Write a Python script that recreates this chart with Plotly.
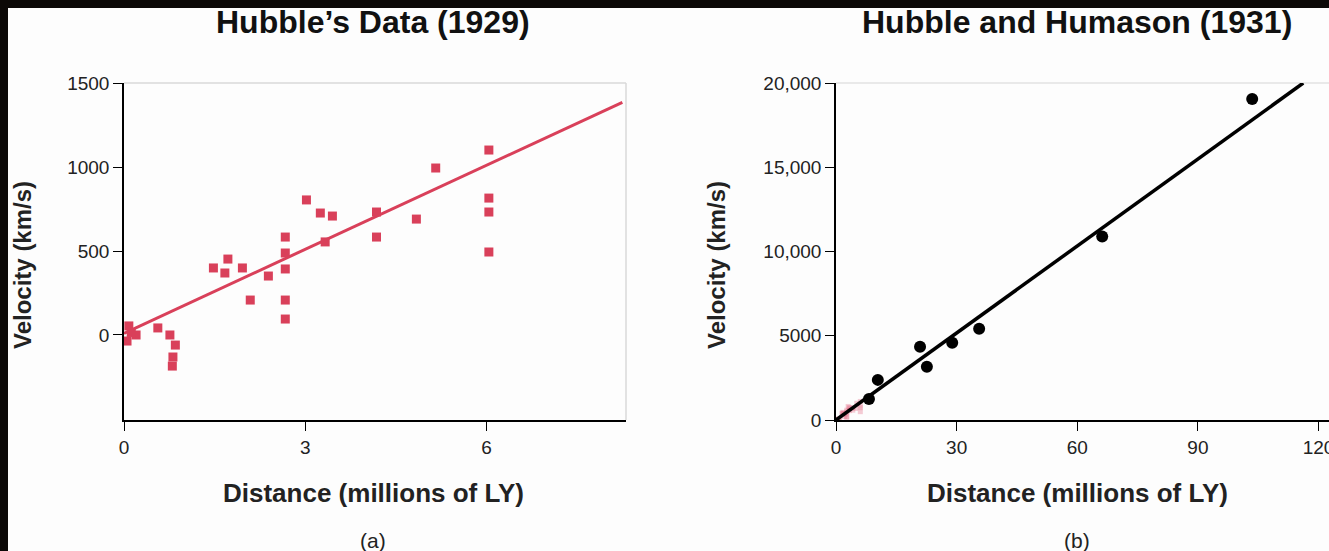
import plotly.graph_objects as go

# ---- Data: Hubble 1929 (distance in millions of LY, velocity km/s)
hubble_dist = [0.08, 0.05, 0.20, 0.12, 0.56, 0.76, 0.85, 0.81, 0.80,
               1.48, 1.72, 1.67, 1.96, 2.09, 2.39,
               2.67, 2.67, 2.67, 2.67, 2.67,
               3.02, 3.25, 3.45, 3.33, 4.18, 4.18, 4.84, 5.16,
               6.04, 6.04, 6.04, 6.04]
hubble_vel = [54, -36, 0, 15, 42, 0, -60, -131, -185,
              399, 452, 369, 399, 208, 351,
              583, 488, 393, 208, 95,
              804, 726, 708, 554, 732, 583, 690, 994,
              1101, 815, 732, 494]
fit_a_x = [0, 8.25]
fit_a_y = [10, 1385]

# ---- Data: Hubble and Humason 1931
hh_dist = [8.2, 10.4, 20.9, 22.6, 28.9, 35.6, 66.2, 103.5]
hh_vel = [1250, 2381, 4345, 3155, 4583, 5417, 10893, 19048]
fit_b_x = [0, 116.2]
fit_b_y = [0, 20000]

xa_ticks = [0, 3, 6]
ya_ticks = [0, 500, 1000, 1500]
ya_text = ["0", "500", "1000", "1500"]
xb_ticks = [0, 30, 60, 90, 120]
xb_text = ["0", "30", "60", "90", "120"]
yb_ticks = [0, 5000, 10000, 15000, 20000]
yb_text = ["0", "5000", "10,000", "15,000", "20,000"]

W, H = 1329, 551
def px(x):
    return x / W
def py(y):
    return 1 - y / H

RED = "#d9405a"
FONT = "Liberation Sans, Arial, sans-serif"

fig = go.Figure()
fig.add_trace(go.Scatter(x=fit_a_x, y=fit_a_y, mode="lines",
                         line=dict(color=RED, width=3), xaxis="x", yaxis="y",
                         hoverinfo="skip"))
fig.add_trace(go.Scatter(x=hubble_dist, y=hubble_vel, mode="markers",
                         marker=dict(symbol="square", size=9, color=RED),
                         xaxis="x", yaxis="y"))
fig.add_trace(go.Scatter(x=hubble_dist, y=hubble_vel, mode="markers",
                         marker=dict(symbol="square", size=5, color="rgba(225,110,135,0.35)"),
                         xaxis="x2", yaxis="y2"))
fig.add_trace(go.Scatter(x=fit_b_x, y=fit_b_y, mode="lines",
                         line=dict(color="black", width=3.5), xaxis="x2", yaxis="y2",
                         hoverinfo="skip"))
fig.add_trace(go.Scatter(x=hh_dist, y=hh_vel, mode="markers",
                         marker=dict(symbol="circle", size=12, color="black"),
                         xaxis="x2", yaxis="y2"))

axis_common = dict(showgrid=False, zeroline=False, showline=True, linecolor="black",
                   linewidth=1.5, ticks="outside", ticklen=9, tickcolor="black",
                   ticklabeloverflow="allow",
                   tickfont=dict(family=FONT, size=19, color="#222"))

ydom = [py(420), py(83)]
fig.update_layout(
    width=W, height=H, margin=dict(l=0, r=0, t=0, b=0, autoexpand=False),
    paper_bgcolor="#0c0907", plot_bgcolor="rgba(0,0,0,0)",
    showlegend=False,
    xaxis=dict(domain=[px(124), px(626)], range=[0, 8.31], tickvals=xa_ticks,
               anchor="y", automargin=False, **axis_common),
    yaxis=dict(domain=ydom, range=[-506, 1500], tickvals=ya_ticks, ticktext=ya_text,
               anchor="x", automargin=False, **axis_common),
    xaxis2=dict(domain=[px(836), 1.0], range=[0, 122.6], tickvals=xb_ticks, ticktext=xb_text,
                anchor="y2", automargin=False, **axis_common),
    yaxis2=dict(domain=ydom, range=[0, 20000], tickvals=yb_ticks, ticktext=yb_text,
                anchor="x2", automargin=False, **axis_common),
    shapes=[
        dict(type="rect", xref="paper", yref="paper", x0=px(8), x1=1.0, y0=0, y1=py(8),
             fillcolor="#fdfdfd", line=dict(width=0), layer="below"),
        dict(type="line", xref="paper", yref="paper", x0=px(124), x1=px(626), y0=py(83), y1=py(83),
             line=dict(color="#d8d8d8", width=1.5), layer="below"),
        dict(type="line", xref="paper", yref="paper", x0=px(626), x1=px(626), y0=py(420), y1=py(83),
             line=dict(color="#d8d8d8", width=1.5), layer="below"),
        dict(type="line", xref="paper", yref="paper", x0=px(836), x1=1.0, y0=py(83), y1=py(83),
             line=dict(color="#e2e2e2", width=1.5), layer="below"),
    ],
    annotations=[
        dict(text="<b>Hubble’s Data (1929)</b>", x=px(373), y=py(22), xref="paper", yref="paper",
             showarrow=False, font=dict(family=FONT, size=32, color="#111"), xanchor="center", yanchor="middle"),
        dict(text="<b>Hubble and Humason (1931)</b>", x=px(1077), y=py(22), xref="paper", yref="paper",
             showarrow=False, font=dict(family=FONT, size=32, color="#111"), xanchor="center", yanchor="middle"),
        dict(text="<b>Distance (millions of LY)</b>", x=px(373), y=py(493), xref="paper", yref="paper",
             showarrow=False, font=dict(family=FONT, size=26, color="#222"), xanchor="center", yanchor="middle"),
        dict(text="<b>Distance (millions of LY)</b>", x=px(1077), y=py(493), xref="paper", yref="paper",
             showarrow=False, font=dict(family=FONT, size=26, color="#222"), xanchor="center", yanchor="middle"),
        dict(text="<b>Velocity (km/s)</b>", x=px(22), y=py(265), xref="paper", yref="paper", textangle=-90,
             showarrow=False, font=dict(family=FONT, size=24, color="#222"), xanchor="center", yanchor="middle"),
        dict(text="<b>Velocity (km/s)</b>", x=px(716), y=py(265), xref="paper", yref="paper", textangle=-90,
             showarrow=False, font=dict(family=FONT, size=24, color="#222"), xanchor="center", yanchor="middle"),
        dict(text="(a)", x=px(373), y=py(540), xref="paper", yref="paper",
             showarrow=False, font=dict(family=FONT, size=21, color="#222"), xanchor="center", yanchor="middle"),
        dict(text="(b)", x=px(1077), y=py(540), xref="paper", yref="paper",
             showarrow=False, font=dict(family=FONT, size=21, color="#222"), xanchor="center", yanchor="middle"),
    ],
)

fig.write_html("out.html", config={"displayModeBar": False},
               post_script="document.body.style.margin='0';document.documentElement.style.overflow='hidden';document.body.style.overflow='hidden';")
